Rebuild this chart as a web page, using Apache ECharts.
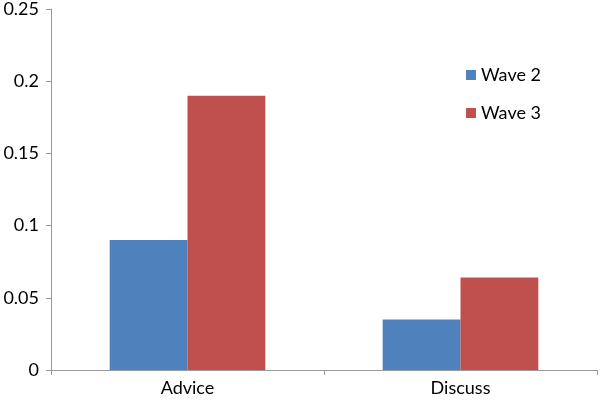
<!DOCTYPE html>
<html>
<head>
<meta charset="utf-8">
<script src="https://cdn.jsdelivr.net/npm/echarts@6/dist/echarts.min.js"></script>
<style>
  html, body { margin: 0; padding: 0; background: #fff; }
  #main { width: 600px; height: 400px; }
</style>
</head>
<body>
<div id="main"></div>
<script>
const categories = ['Advice', 'Discuss']
const wave2 = [0.090, 0.035]
const wave3 = [0.190, 0.064]
const seriesNames = ['Wave 2', 'Wave 3']

const font = 'Lato, "Open Sans", sans-serif'

const chart = echarts.init(document.getElementById('main'))

const option = {
    animation: false,
    textStyle: { fontFamily: font },
    grid: { left: 51, right: 3, top: 5, bottom: 30, containLabel: false },
    legend: {
        data: seriesNames,
        orient: 'vertical',
        left: 461,
        top: 61,
        itemWidth: 10,
        itemHeight: 10,
        itemGap: 20,
        icon: 'rect',
        textStyle: { fontSize: 18, color: '#000', fontFamily: font }
    },
    xAxis: {
        type: 'category',
        data: categories,
        axisLine: { lineStyle: { color: '#999', width: 1 } },
        axisTick: { show: true, length: 5, lineStyle: { color: '#999' } },
        axisLabel: { fontSize: 18, color: '#000', margin: 9, fontFamily: font },
        splitLine: { show: false }
    },
    yAxis: {
        type: 'value',
        min: 0,
        max: 0.25,
        interval: 0.05,
        axisLine: { show: true, lineStyle: { color: '#999', width: 1 } },
        axisTick: { show: true, length: 5, lineStyle: { color: '#999' } },
        axisLabel: { fontSize: 18, color: '#000', margin: 12, fontFamily: font },
        splitLine: { show: false }
    },
    series: [
        {
            name: seriesNames[0],
            type: 'bar',
            data: wave2,
            itemStyle: { color: '#4F81BD' },
            barGap: '0%',
            barCategoryGap: '43%'
        },
        {
            name: seriesNames[1],
            type: 'bar',
            data: wave3,
            itemStyle: { color: '#C0504D' },
            barGap: '0%',
            barCategoryGap: '43%'
        }
    ]
}

chart.setOption(option)
</script>
</body>
</html>
